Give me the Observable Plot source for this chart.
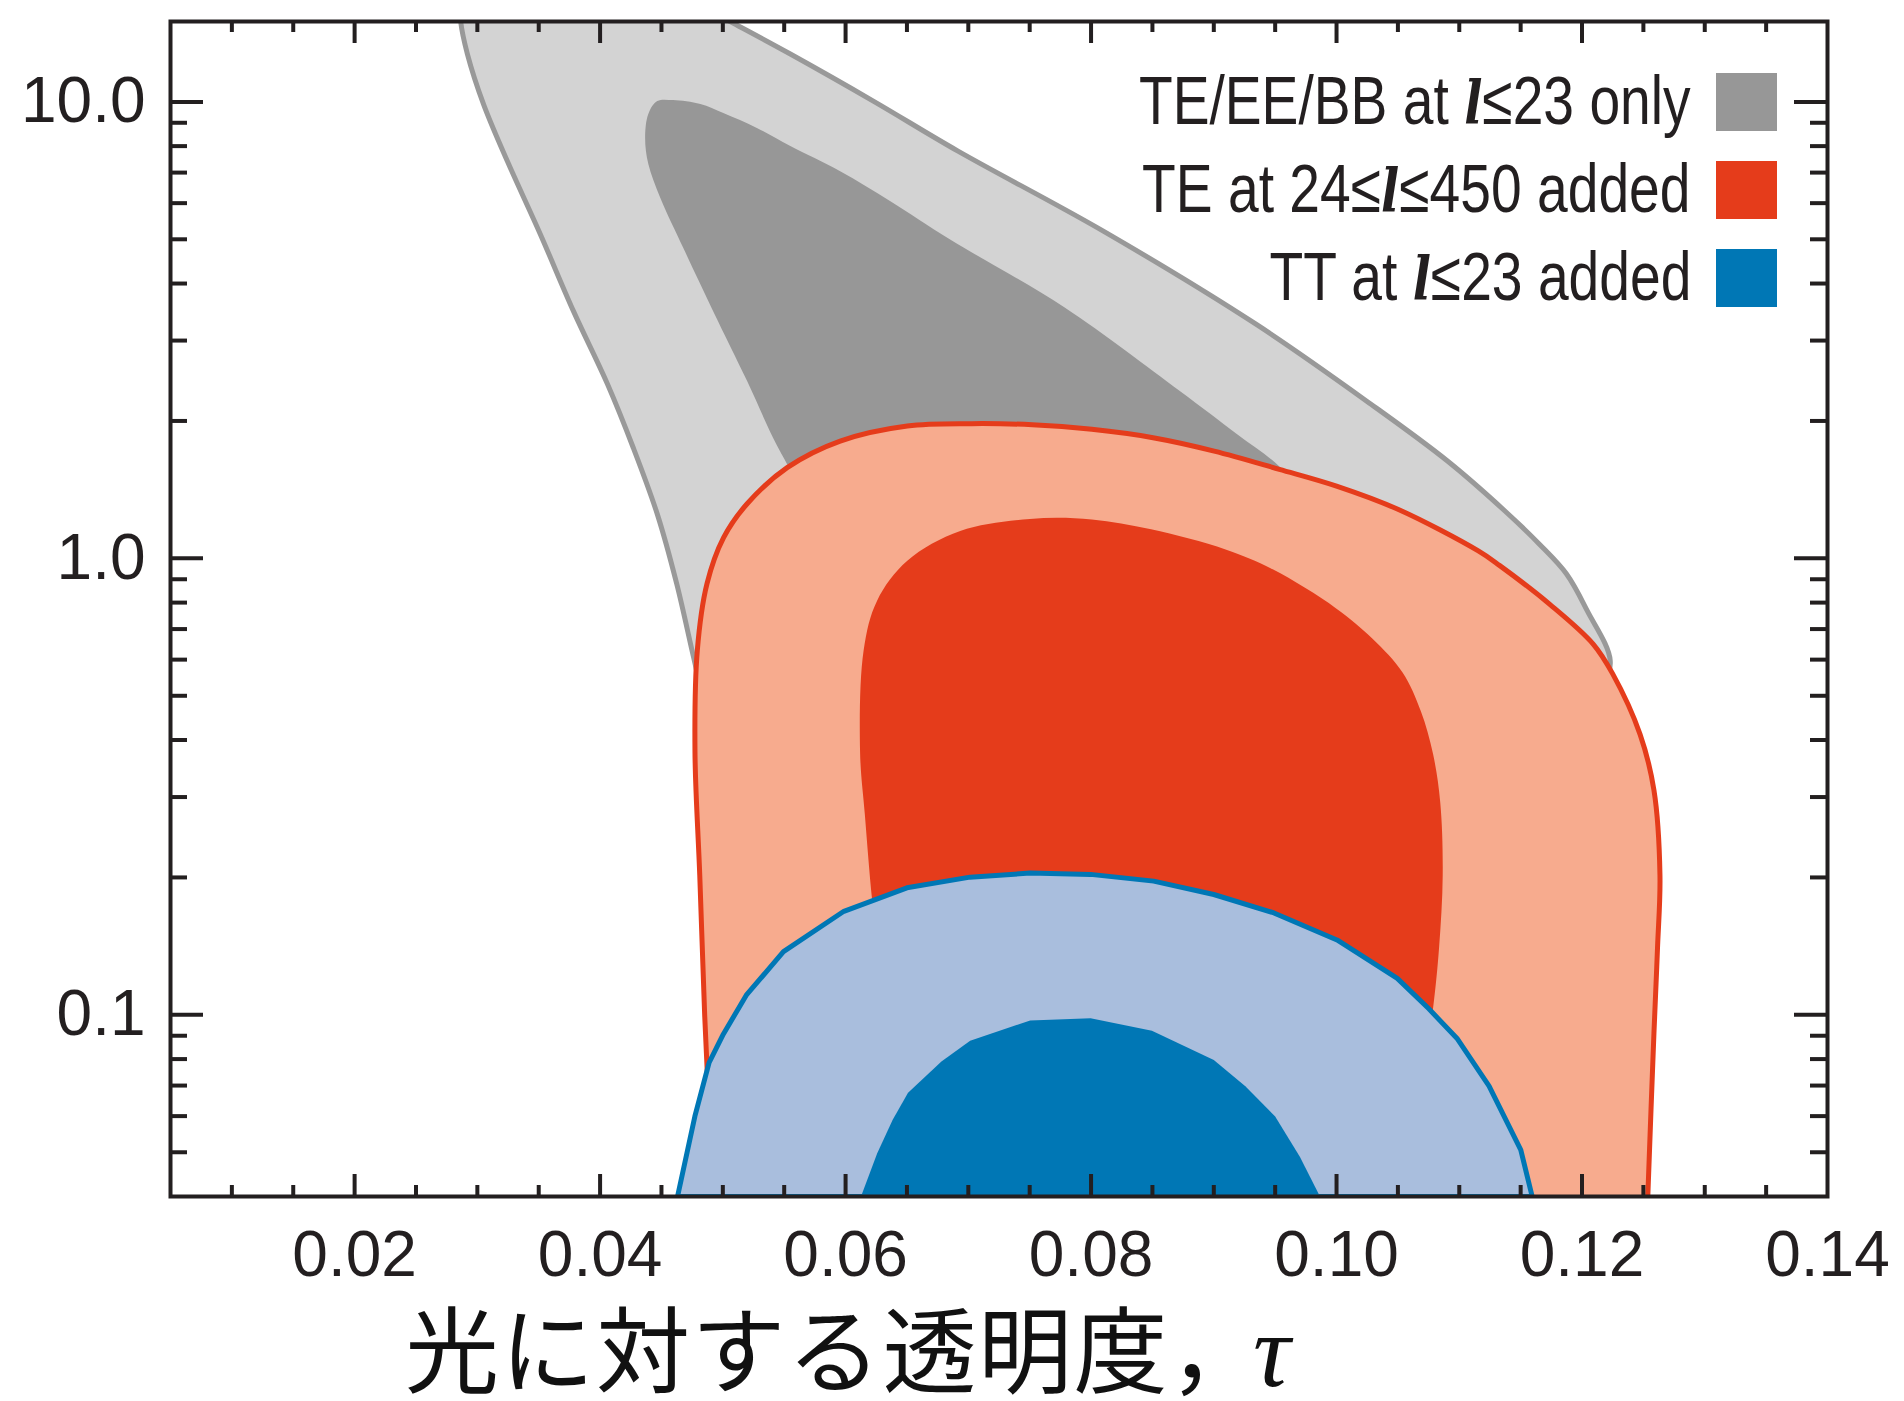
<!DOCTYPE html>
<html>
<head>
<meta charset="utf-8">
<script src="https://cdn.jsdelivr.net/npm/d3@7"></script>
<script src="https://cdn.jsdelivr.net/npm/@observablehq/plot@0.6"></script>
<style>
html, body { margin: 0; padding: 0; background: #fff; }
#wrap { position: relative; width: 1904px; height: 1401px; overflow: hidden; background: #fff; }
#chart { position: absolute; left: 0; top: 0; }
.legend-row { position: absolute; right: 127px; height: 58px; display: flex; align-items: center; }
.legend-text { font-size: 69px; line-height: 69px; color: #231f20; white-space: nowrap; margin-right: 25px; transform-origin: right center; }
.legend-text i { font-family: "DejaVu Serif", "Liberation Serif", serif; font-style: italic; font-weight: bold; font-size: 60px; }
.swatch { width: 61px; height: 58px; }
#xlabel { position: absolute; left: 405px; top: 1298px; font-family: "Noto Sans CJK JP", sans-serif; font-size: 94px; line-height: 94px; letter-spacing: 1.5px; color: #111; white-space: nowrap; }
#xlabel .comma { letter-spacing: -10px; }
#xlabel i { font-family: "Liberation Serif", serif; font-style: italic; font-size: 104px; }
</style>
</head>
<body>
<div id="wrap"><div id="chart"></div><div id="xlabel"></div></div>
<script>
// ---- tick values ----
const xLabelTicks = [0.02, 0.04, 0.06, 0.08, 0.10, 0.12, 0.14];
const xMajorTicks = [0.02, 0.04, 0.06, 0.08, 0.10, 0.12];
const xMinorTicks = [0.01, 0.015, 0.025, 0.03, 0.035, 0.045, 0.05, 0.055, 0.065, 0.07, 0.075,
                     0.085, 0.09, 0.095, 0.105, 0.11, 0.115, 0.125, 0.13, 0.135];
const yLabelTicks = [0.1, 1, 10];
const yMinorTicks = [0.05, 0.06, 0.07, 0.08, 0.09, 0.2, 0.3, 0.4, 0.5, 0.6, 0.7, 0.8, 0.9,
                     2, 3, 4, 5, 6, 7, 8, 9];

// ---- contours: [tau, value] ----
// TE/EE/BB at l<=23 only : outer and inner region
const grayOuter = [
  [0.02854, 18], [0.02864, 15], [0.02919, 12.73], [0.0305, 9.89], [0.03244, 7.42], [0.03513, 5.13],
  [0.03783, 3.48], [0.0406, 2.41], [0.04271, 1.745], [0.04466, 1.25], [0.04624, 0.88], [0.04763, 0.605],
  [0.04832, 0.507], [0.0495, 0.4217], [0.08016, 0.373], [0.11874, 0.4217], [0.1215, 0.507],
  [0.1223, 0.596], [0.12042, 0.768], [0.11874, 0.924], [0.11653, 1.074], [0.11372, 1.27],
  [0.10904, 1.634], [0.10281, 2.176], [0.09347, 3.254], [0.081, 5.21], [0.06916, 7.80],
  [0.06226, 10.04], [0.0555, 12.73], [0.05059, 15], [0.04505, 18]
];
const grayInner = [
  [0.04466, 10.04], [0.04595, 10.09], [0.04817, 9.89], [0.05004, 9.45], [0.05281, 8.76], [0.0555, 8.0],
  [0.05956, 7.05], [0.06365, 6.06], [0.06852, 4.995], [0.07788, 3.54], [0.08723, 2.326], [0.0919, 1.87],
  [0.09534, 1.59], [0.09747, 1.35], [0.09005, 1.123], [0.06038, 1.123], [0.05663, 1.366],
  [0.05534, 1.59], [0.05411, 1.833], [0.05198, 2.445], [0.04921, 3.48], [0.04679, 4.78],
  [0.04491, 6.16], [0.04393, 7.31], [0.04367, 8.33], [0.04393, 9.41]
];
// TE at 24<=l<=450 added
const redOuter = [
  [0.04911, 0.04], [0.04881, 0.0672], [0.04852, 0.1], [0.04812, 0.2022], [0.04773, 0.3777],
  [0.04792, 0.628], [0.04871, 0.88], [0.05006, 1.11], [0.05198, 1.317], [0.05524, 1.58],
  [0.05956, 1.807], [0.06503, 1.95], [0.07027, 1.973], [0.07522, 1.962], [0.08006, 1.917],
  [0.08505, 1.838], [0.09003, 1.718], [0.09534, 1.567], [0.1, 1.44], [0.105, 1.281],
  [0.11155, 1.038], [0.1133, 0.964], [0.1174, 0.792], [0.12091, 0.649], [0.12249, 0.559],
  [0.12473, 0.4116], [0.12586, 0.3105], [0.12635, 0.2022], [0.12615, 0.14], [0.12586, 0.0912],
  [0.12536, 0.04], [0.1252, 0.03], [0.0493, 0.03]
];
const redInner = [
  [0.06286, 0.0672], [0.06286, 0.124], [0.06216, 0.179], [0.06157, 0.2748], [0.06118, 0.3777],
  [0.06147, 0.628], [0.06256, 0.807], [0.06503, 0.988], [0.06934, 1.148], [0.07502, 1.22],
  [0.08006, 1.217], [0.08489, 1.158], [0.09096, 1.046], [0.0948, 0.946], [0.09994, 0.778],
  [0.10291, 0.6675], [0.10538, 0.5623], [0.10687, 0.4624], [0.10786, 0.373], [0.10845, 0.292],
  [0.10865, 0.2022], [0.10835, 0.14], [0.10786, 0.1031], [0.10687, 0.0672]
];
// TT at l<=23 added
const blueOuter = [
  [0.04631, 0.04], [0.04772, 0.0599], [0.04888, 0.0786], [0.05005, 0.0908], [0.05191, 0.1104],
  [0.05494, 0.1376], [0.05986, 0.1686], [0.065, 0.1898], [0.07014, 0.2003], [0.07504, 0.2044],
  [0.07996, 0.2031], [0.0851, 0.1963], [0.09, 0.1835], [0.0949, 0.1672], [0.10004, 0.1459],
  [0.10495, 0.1202], [0.10752, 0.1031], [0.10986, 0.0885], [0.11243, 0.0698], [0.11501, 0.0506],
  [0.11594, 0.04]
];
const blueInner = [
  [0.06126, 0.04], [0.06257, 0.0497], [0.06384, 0.0589], [0.06509, 0.0675], [0.06781, 0.079],
  [0.07015, 0.0878], [0.07504, 0.0972], [0.07996, 0.0983], [0.08496, 0.0923], [0.09, 0.0796],
  [0.09257, 0.0698], [0.095, 0.0599], [0.09701, 0.0489], [0.09865, 0.04]
];

const legendLabels = [
  ["TE/EE/BB at ", "l", "≤23 only"],
  ["TE at 24≤", "l", "≤450 added"],
  ["TT at ", "l", "≤23 added"]
];
const legendColors = ["#979797", "#e53c1b", "#0077b5"];

// ---- layout ----
const W = 1904, H = 1300;
const mL = 170, mR = 77, mT = 21, mB = 104;
const FW = W - mL - mR, FH = H - mT - mB;
const ink = "#231f20";
const X = d => d[0], Y = d => d[1];

const chart = Plot.plot({
  width: W, height: H,
  marginLeft: mL, marginRight: mR, marginTop: mT, marginBottom: mB,
  style: { fontFamily: "'Liberation Sans', Arial, sans-serif", color: ink, background: "#fff", overflow: "visible" },
  x: { domain: [0.005, 0.14] },
  y: { type: "log", domain: [0.04, 15] },
  marks: [
    Plot.line(grayOuter, { x: X, y: Y, curve: "catmull-rom-closed", fill: "#d3d3d3", stroke: "#999999", strokeWidth: 5, clip: true }),
    Plot.line(grayInner, { x: X, y: Y, curve: "catmull-rom-closed", fill: "#979797", stroke: "none", clip: true }),
    Plot.line(redOuter, { x: X, y: Y, curve: "catmull-rom-closed", fill: "#f7ab8e", stroke: "#e53c1b", strokeWidth: 5, clip: true }),
    Plot.line(redInner, { x: X, y: Y, curve: "catmull-rom-closed", fill: "#e53c1b", stroke: "none", clip: true }),
    Plot.line(blueOuter, { x: X, y: Y, curve: "linear-closed", fill: "#a9bedd", stroke: "#0077b5", strokeWidth: 5, strokeLinejoin: "round", clip: true }),
    Plot.line(blueInner, { x: X, y: Y, curve: "linear-closed", fill: "#0077b5", stroke: "none", clip: true }),
    // inward ticks: bottom & top
    Plot.tickX(xMajorTicks, { x: d => d, insetTop: FH - 22, stroke: ink, strokeWidth: 4 }),
    Plot.tickX(xMinorTicks, { x: d => d, insetTop: FH - 11, stroke: ink, strokeWidth: 4 }),
    Plot.tickX(xMajorTicks, { x: d => d, insetBottom: FH - 22, stroke: ink, strokeWidth: 4 }),
    Plot.tickX(xMinorTicks, { x: d => d, insetBottom: FH - 11, stroke: ink, strokeWidth: 4 }),
    // inward ticks: left & right
    Plot.tickY(yLabelTicks, { y: d => d, insetRight: FW - 33, stroke: ink, strokeWidth: 4 }),
    Plot.tickY(yMinorTicks, { y: d => d, insetRight: FW - 17, stroke: ink, strokeWidth: 4 }),
    Plot.tickY(yLabelTicks, { y: d => d, insetLeft: FW - 33, stroke: ink, strokeWidth: 4 }),
    Plot.tickY(yMinorTicks, { y: d => d, insetLeft: FW - 17, stroke: ink, strokeWidth: 4 }),
    Plot.axisX({ ticks: xLabelTicks, tickSize: 0, tickPadding: 34, tickFormat: d => d.toFixed(2), fontSize: 64, label: null }),
    Plot.axisY({ ticks: yLabelTicks, tickSize: 0, tickPadding: 25, tickFormat: d => d < 1 ? String(d) : d.toFixed(1), fontSize: 64, label: null }),
    Plot.frame({ stroke: ink, strokeWidth: 4 })
  ]
});
document.getElementById("chart").appendChild(chart);

// x-axis title (HTML, below the plot area)
const xl = document.getElementById("xlabel");
xl.append("光に対する透明度");
const comma = document.createElement("span"); comma.className = "comma"; comma.textContent = "，"; xl.append(comma);
const tau = document.createElement("i"); tau.textContent = "τ"; xl.append(tau);

// legend (top-right inside frame)
const canvas = document.createElement("canvas").getContext("2d");
canvas.font = "64px 'Liberation Sans Narrow', monospace";
const w1 = canvas.measureText("TE/EE/BB at only").width;
canvas.font = "64px monospace";
const w2 = canvas.measureText("TE/EE/BB at only").width;
const hasNarrow = Math.abs(w1 - w2) > 1;
const swTops = [73, 161, 249];
const wrap = document.getElementById("wrap");
legendLabels.forEach((parts, i) => {
  const row = document.createElement("div");
  row.className = "legend-row";
  row.style.top = swTops[i] + "px";
  const t = document.createElement("span");
  t.className = "legend-text";
  t.style.fontFamily = hasNarrow ? "'Liberation Sans Narrow', sans-serif" : "'Liberation Sans', sans-serif";
  if (!hasNarrow) t.style.transform = "scaleX(0.8)";
  t.append(parts[0]);
  const it = document.createElement("i"); it.textContent = parts[1]; t.append(it);
  t.append(parts[2]);
  const sw = document.createElement("span");
  sw.className = "swatch";
  sw.style.background = legendColors[i];
  row.append(t, sw);
  wrap.append(row);
});
</script>
</body>
</html>
